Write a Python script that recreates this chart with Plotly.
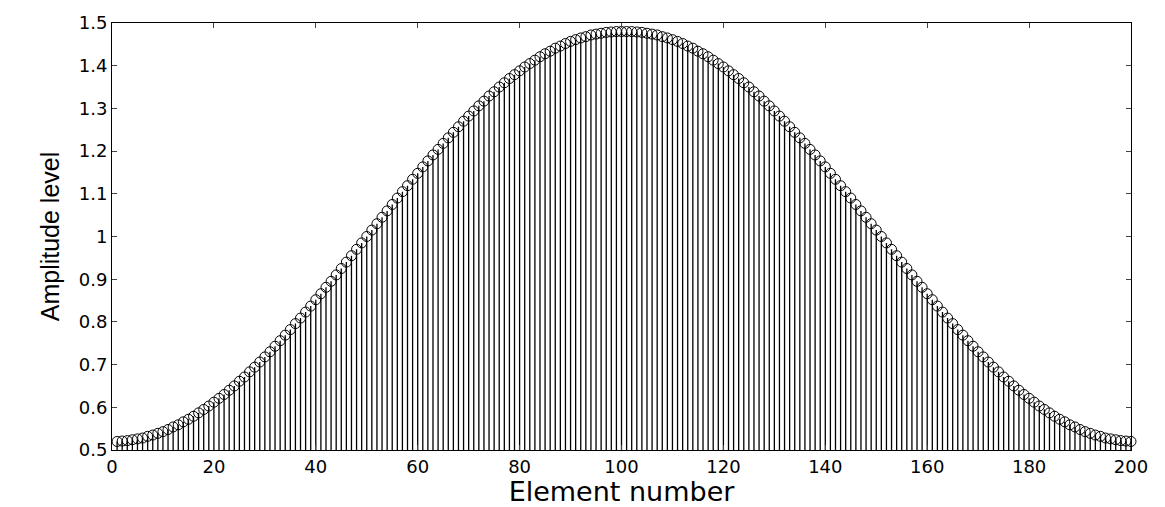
import plotly.graph_objects as go

elements = list(range(1, 201))
amplitude = [
    0.520, 0.521, 0.522, 0.524, 0.526, 0.528, 0.532, 0.535, 0.539, 0.543,
    0.548, 0.554, 0.559, 0.566, 0.572, 0.579, 0.587, 0.595, 0.603, 0.612,
    0.621, 0.630, 0.640, 0.650, 0.661, 0.671, 0.683, 0.694, 0.706, 0.718,
    0.730, 0.743, 0.756, 0.769, 0.782, 0.796, 0.809, 0.823, 0.837, 0.852,
    0.866, 0.881, 0.895, 0.910, 0.925, 0.940, 0.955, 0.970, 0.985, 1.000,
    1.015, 1.030, 1.045, 1.060, 1.075, 1.090, 1.105, 1.119, 1.134, 1.148,
    1.163, 1.177, 1.191, 1.204, 1.218, 1.231, 1.244, 1.257, 1.270, 1.282,
    1.294, 1.306, 1.317, 1.329, 1.339, 1.350, 1.360, 1.370, 1.379, 1.388,
    1.397, 1.405, 1.413, 1.421, 1.428, 1.434, 1.441, 1.446, 1.452, 1.457,
    1.461, 1.465, 1.468, 1.472, 1.474, 1.476, 1.478, 1.479, 1.480, 1.480,
    1.480, 1.480, 1.479, 1.478, 1.476, 1.474, 1.472, 1.468, 1.465, 1.461,
    1.457, 1.452, 1.446, 1.441, 1.434, 1.428, 1.421, 1.413, 1.405, 1.397,
    1.388, 1.379, 1.370, 1.360, 1.350, 1.339, 1.329, 1.317, 1.306, 1.294,
    1.282, 1.270, 1.257, 1.244, 1.231, 1.218, 1.204, 1.191, 1.177, 1.163,
    1.148, 1.134, 1.119, 1.105, 1.090, 1.075, 1.060, 1.045, 1.030, 1.015,
    1.000, 0.985, 0.970, 0.955, 0.940, 0.925, 0.910, 0.895, 0.881, 0.866,
    0.852, 0.837, 0.823, 0.809, 0.796, 0.782, 0.769, 0.756, 0.743, 0.730,
    0.718, 0.706, 0.694, 0.683, 0.671, 0.661, 0.650, 0.640, 0.630, 0.621,
    0.612, 0.603, 0.595, 0.587, 0.579, 0.572, 0.566, 0.559, 0.554, 0.548,
    0.543, 0.539, 0.535, 0.532, 0.528, 0.526, 0.524, 0.522, 0.521, 0.520,
]
stem_base = 0.0

x_ticks = [0, 20, 40, 60, 80, 100, 120, 140, 160, 180, 200]
y_ticks = [0.5, 0.6, 0.7, 0.8, 0.9, 1.0, 1.1, 1.2, 1.3, 1.4, 1.5]
y_tick_text = ["0.5", "0.6", "0.7", "0.8", "0.9", "1", "1.1", "1.2", "1.3", "1.4", "1.5"]

# stem segments built from the data
sx, sy = [], []
for n, a in zip(elements, amplitude):
    sx += [n, n, None]
    sy += [stem_base, a, None]

fig = go.Figure()
fig.add_trace(go.Scatter(
    x=sx, y=sy, mode="lines",
    line=dict(color="black", width=1.3),
    hoverinfo="skip", showlegend=False,
))
fig.add_trace(go.Scatter(
    x=elements, y=amplitude, mode="markers",
    marker=dict(symbol="circle-open", size=10, color="black", line=dict(width=1, color="black")),
    cliponaxis=False, showlegend=False,
))

tick_font = dict(family="DejaVu Sans, Arial, sans-serif", size=18, color="black")

fig.update_layout(
    width=1165, height=507,
    margin=dict(l=112, r=34, t=17, b=55),
    paper_bgcolor="white", plot_bgcolor="white",
    xaxis=dict(
        range=[0, 200], tickvals=x_ticks, ticks="inside", ticklen=5,
        tickcolor="#444", showline=True, linecolor="black", linewidth=1,
        mirror="ticks", showgrid=False, zeroline=False, tickfont=tick_font,
        title=dict(text="Element number", standoff=0,
                   font=dict(family="DejaVu Sans, Arial, sans-serif", size=27, color="black")),
    ),
    yaxis=dict(
        range=[0.5, 1.5], tickvals=y_ticks, ticktext=y_tick_text, ticks="inside",
        ticklen=5, tickcolor="#444", showline=True, linecolor="black", linewidth=1,
        mirror="ticks", showgrid=False, zeroline=False, tickfont=tick_font,
        title=dict(text="Amplitude level", standoff=12,
                   font=dict(family="Liberation Sans Narrow, Liberation Sans, Arial, sans-serif", size=25, color="black")),
    ),
)

fig.write_html("out.html")
